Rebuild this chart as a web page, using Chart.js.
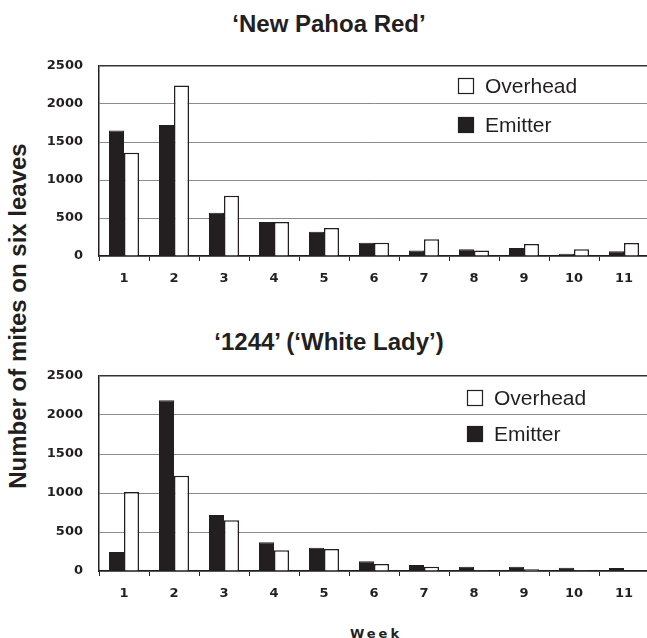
<!DOCTYPE html>
<html>
<head>
<meta charset="utf-8">
<script src="https://cdn.jsdelivr.net/npm/chart.js@4"></script>
<style>
  html, body { margin: 0; padding: 0; background: #fff; overflow: hidden; }
  body { width: 647px; height: 638px; position: relative; }
  canvas { position: absolute; left: 0; }
  .title { position: absolute; font: bold 24px "Liberation Sans", Arial, sans-serif; color: #231f20; white-space: nowrap; transform: translate(-50%, -50%); }
  #ylabel { position: absolute; left: 18px; top: 316px; font: bold 24px "Liberation Sans", Arial, sans-serif; color: #231f20; white-space: nowrap; transform: translate(-50%, -50%) rotate(-90deg); }
  #xlabel { position: absolute; left: 376px; top: 626px; font: bold 13px "DejaVu Sans", sans-serif; letter-spacing: 3px; color: #231f20; transform: translateX(-50%); }
</style>
</head>
<body>
<div class="title" style="left:329px; top:24px;">‘New Pahoa Red’</div>
<div class="title" style="left:329px; top:342px;">‘1244’ (‘White Lady’)</div>
<div id="ylabel">Number of mites on six leaves</div>
<div id="xlabel">Week</div>
<canvas id="chart-pahoa" width="660" height="250" style="top:50px;"></canvas>
<canvas id="chart-lady" width="660" height="255" style="top:360px;"></canvas>
<script>
const weeks = ['1', '2', '3', '4', '5', '6', '7', '8', '9', '10', '11'];
const pahoaEmitter = [1650, 1725, 570, 447, 320, 175, 74, 88, 105, 31, 61];
const pahoaOverhead = [1360, 2245, 792, 447, 368, 175, 219, 74, 158, 88, 171];
const ladyEmitter = [244, 2190, 718, 368, 299, 124, 77, 56, 56, 43, 38];
const ladyOverhead = [1013, 1222, 650, 265, 282, 90, 56, 10, 21, 10, 5];
const yTicks = [0, 500, 1000, 1500, 2000, 2500];

const ink = '#231f20';

// legend drawn inside the plot, Overhead above Emitter
const legendInside = {
    id: 'legendInside',
    afterDraw(chart, args, opts) {
        const ctx = chart.ctx;
        const area = chart.chartArea;
        ctx.save();
        ctx.font = '21px "Liberation Sans", Arial, sans-serif';
        ctx.textBaseline = 'middle';
        const items = chart.data.datasets.slice().reverse();
        items.forEach((ds, i) => {
            const x = area.left + opts.x;
            const y = area.top + opts.y + i * opts.gap;
            ctx.fillStyle = ds.backgroundColor;
            ctx.fillRect(x, y, 16, 16);
            ctx.lineWidth = 1.2;
            ctx.strokeStyle = ink;
            ctx.strokeRect(x + 0.5, y + 0.5, 15, 15);
            ctx.fillStyle = ink;
            ctx.fillText(ds.label, x + 27, y + 9);
        });
        ctx.restore();
    }
};

// grid colours per tick index, darker line at the top value
const gridColors = yTicks.map((v, i) => i === yTicks.length - 1 ? '#333333' : '#8a8a8a');
const gridWidths = yTicks.map((v, i) => i === yTicks.length - 1 ? 1.5 : 1);

function makeChart(id, emitter, overhead, legendPos) {
    const ctx = document.getElementById(id).getContext('2d');
    return new Chart(ctx, {
        type: 'bar',
        data: {
            labels: weeks,
            datasets: [{
                label: 'Emitter',
                data: emitter,
                backgroundColor: ink,
                borderColor: ink,
                borderWidth: 1
            }, {
                label: 'Overhead',
                data: overhead,
                backgroundColor: '#ffffff',
                borderColor: ink,
                borderWidth: 1.5
            }]
        },
        options: {
            responsive: false,
            animation: false,
            devicePixelRatio: 1,
            layout: { padding: { top: 16, right: 11, left: 0, bottom: 0 } },
            datasets: { bar: { categoryPercentage: 0.6, barPercentage: 1.0 } },
            plugins: {
                legend: { display: false },
                tooltip: { enabled: false },
                legendInside: legendPos
            },
            scales: {
                x: {
                    offset: true,
                    afterFit: scale => { scale.height = 44; },
                    grid: { offset: true, drawOnChartArea: false, drawTicks: true, tickLength: 5, color: ink },
                    border: { display: true, color: ink, width: 1.5 },
                    ticks: {
                        color: ink,
                        padding: 10,
                        font: { family: '"DejaVu Sans", sans-serif', size: 13, weight: 'bold' }
                    }
                },
                y: {
                    min: yTicks[0],
                    max: yTicks[yTicks.length - 1],
                    afterFit: scale => {
                        scale.width = 99;
                        scale.paddingTop = 0;
                        scale.paddingBottom = 0;
                    },
                    afterBuildTicks: scale => { scale.ticks = yTicks.map(v => ({ value: v })); },
                    grid: {
                        drawTicks: false,
                        color: gridColors,
                        lineWidth: gridWidths
                    },
                    border: { display: true, color: ink, width: 1.5 },
                    ticks: {
                        color: ink,
                        padding: 16,
                        callback: v => String(v),
                        font: { family: '"DejaVu Sans", sans-serif', size: 13, weight: 'bold' }
                    }
                }
            }
        },
        plugins: [legendInside]
    });
}

makeChart('chart-pahoa', pahoaEmitter, pahoaOverhead, { x: 359, y: 12, gap: 39 });
makeChart('chart-lady', ladyEmitter, ladyOverhead, { x: 368, y: 14, gap: 36 });
</script>
</body>
</html>
